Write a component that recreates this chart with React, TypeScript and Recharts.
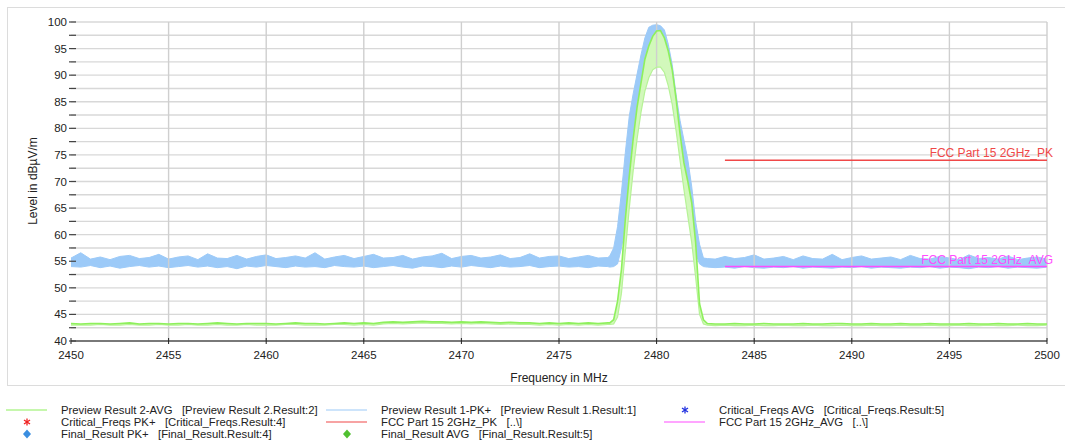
import React from "react"
import {
  ComposedChart,
  Area,
  Line,
  XAxis,
  YAxis,
  CartesianGrid,
  ReferenceLine,
  ReferenceDot,
} from "recharts"

// frequency grid (MHz): noise floor left, signal region, noise floor right
const leftFreqs = [
  2450, 2450.5, 2451, 2451.5, 2452, 2452.5, 2453, 2453.5, 2454, 2454.5,
  2455, 2455.5, 2456, 2456.5, 2457, 2457.5, 2458, 2458.5, 2459, 2459.5,
  2460, 2460.5, 2461, 2461.5, 2462, 2462.5, 2463, 2463.5, 2464, 2464.5,
  2465, 2465.5, 2466, 2466.5, 2467, 2467.5, 2468, 2468.5, 2469, 2469.5,
  2470, 2470.5, 2471, 2471.5, 2472, 2472.5, 2473, 2473.5, 2474, 2474.5,
  2475, 2475.5, 2476, 2476.5, 2477, 2477.5,
]
const peakFreqs = [
  2477.6, 2477.8, 2478, 2478.2, 2478.4, 2478.6, 2478.8, 2479, 2479.2, 2479.4,
  2479.6, 2479.8, 2480, 2480.2, 2480.4, 2480.6, 2480.8, 2481, 2481.2, 2481.4,
  2481.6, 2481.8, 2482, 2482.2, 2482.4, 2482.6,
]
const rightFreqs = [
  2483, 2483.5, 2484, 2484.5, 2485, 2485.5, 2486, 2486.5, 2487, 2487.5,
  2488, 2488.5, 2489, 2489.5, 2490, 2490.5, 2491, 2491.5, 2492, 2492.5,
  2493, 2493.5, 2494, 2494.5, 2495, 2495.5, 2496, 2496.5, 2497, 2497.5,
  2498, 2498.5, 2499, 2499.5, 2500,
]

// Preview Result 1-PK+ (upper / lower envelope of the sweeps), dBµV/m
const pkHiLeft = [
  55.6, 56.6, 55.4, 55.8, 55.3, 55.9, 56.1, 55.5, 55.7, 56.3,
  55.4, 55.8, 56.0, 55.3, 56.4, 55.6, 55.5, 56.1, 55.4, 55.9,
  56.2, 55.5, 55.7, 56.0, 55.6, 56.6, 55.4, 55.8, 56.1, 55.5,
  55.9, 56.3, 55.6, 55.7, 56.1, 55.4, 55.8, 56.0, 56.5, 55.5,
  55.9, 56.1, 55.6, 55.8, 56.2, 55.5, 55.7, 56.4, 55.6, 55.9,
  56.0, 55.5, 55.8, 56.1, 55.6, 55.7,
]
const pkLoLeft = [
  54.0, 53.9, 54.2, 53.8, 54.1, 53.7, 54.0, 54.2, 53.9, 54.1,
  53.8, 54.0, 54.2, 53.9, 54.1, 53.8, 54.0, 53.6, 54.1, 53.9,
  54.2, 54.0, 53.8, 54.1, 53.9, 54.0, 53.8, 54.2, 54.0, 53.9,
  54.1, 53.8, 54.0, 54.2, 53.9, 53.7, 54.1, 54.0, 53.8, 54.1,
  53.9, 54.2, 54.0, 53.8, 54.1, 53.9, 54.0, 54.2, 53.8, 54.0,
  54.1, 53.9, 54.0, 53.8, 54.1, 54.0,
]
const pkHiPeak = [
  56.0, 57.5, 61.5, 68.0, 75.5, 82.3, 86.5, 90.2, 93.8, 97.0,
  99.0, 99.4, 99.5, 99.3, 98.5, 95.8, 92.0, 86.3, 81.5, 77.8,
  74.1, 69.0, 62.5, 58.2, 55.6, 55.5,
]
const pkLoPeak = [
  53.9, 54.0, 54.5, 57.5, 61.5, 68.0, 75.0, 82.5, 87.0, 90.5,
  93.5, 96.5, 97.5, 97.0, 94.5, 90.0, 85.0, 80.0, 76.0, 71.0,
  65.0, 60.0, 56.5, 54.5, 54.0, 53.9,
]
const pkHiRight = [
  55.4, 55.9, 55.5, 55.7, 56.2, 55.4, 55.6, 55.9, 55.3, 56.0,
  55.5, 55.4, 56.3, 55.3, 55.7, 56.0, 55.4, 55.6, 55.8, 55.3,
  56.1, 55.5, 55.4, 55.9, 55.6, 55.3, 56.2, 55.5, 55.7, 55.4,
  56.0, 55.3, 55.6, 55.8, 55.4,
]
const pkLoRight = [
  53.8, 53.9, 53.7, 54.0, 53.8, 53.7, 53.9, 53.8, 54.0, 53.7,
  53.9, 53.8, 53.7, 53.9, 53.8, 54.0, 53.7, 53.9, 53.8, 53.7,
  53.9, 53.8, 54.0, 53.7, 53.9, 53.8, 53.6, 53.9, 53.8, 54.0,
  53.7, 53.9, 53.8, 53.7, 53.9,
]

// Preview Result 2-AVG
const avgHiLeft = [
  43.3, 43.2, 43.3, 43.3, 43.2, 43.3, 43.4, 43.2, 43.3, 43.3,
  43.2, 43.3, 43.3, 43.2, 43.3, 43.4, 43.3, 43.2, 43.3, 43.3,
  43.3, 43.2, 43.3, 43.4, 43.3, 43.3, 43.2, 43.3, 43.4, 43.3,
  43.4, 43.3, 43.5, 43.6, 43.5, 43.6, 43.7, 43.6, 43.6, 43.5,
  43.6, 43.5, 43.6, 43.5, 43.4, 43.5, 43.4, 43.4, 43.3, 43.4,
  43.3, 43.4, 43.3, 43.4, 43.3, 43.4,
]
const avgLoLeft = [
  43.0, 43.0, 43.0, 43.1, 43.0, 43.0, 43.1, 43.0, 43.0, 43.1,
  43.0, 43.0, 43.1, 43.0, 43.0, 43.1, 43.0, 43.0, 43.1, 43.0,
  43.0, 43.0, 43.1, 43.1, 43.0, 43.0, 43.0, 43.1, 43.1, 43.0,
  43.1, 43.0, 43.2, 43.3, 43.2, 43.3, 43.4, 43.3, 43.3, 43.2,
  43.3, 43.2, 43.3, 43.2, 43.1, 43.2, 43.1, 43.1, 43.0, 43.1,
  43.0, 43.1, 43.0, 43.1, 43.0, 43.1,
]
const avgHiPeak = [
  43.4, 44.0, 47.5, 53.5, 63.0, 71.0, 78.0, 84.0, 88.5, 93.0,
  95.5, 97.3, 98.3, 98.4, 97.0, 94.5, 91.0, 85.5, 79.0, 73.5,
  70.0, 66.0, 58.5, 47.0, 44.0, 43.3,
]
const avgLoPeak = [
  43.1, 43.2, 44.5, 49.0, 57.0, 65.0, 72.0, 78.0, 83.0, 87.0,
  89.5, 91.0, 91.5, 91.5, 90.5, 88.0, 84.5, 79.5, 74.0, 68.5,
  63.5, 58.5, 52.0, 45.0, 43.2, 43.0,
]
const avgHiRight = [
  43.2, 43.2, 43.3, 43.2, 43.2, 43.3, 43.2, 43.2, 43.2, 43.3,
  43.2, 43.2, 43.3, 43.3, 43.2, 43.2, 43.3, 43.2, 43.2, 43.3,
  43.2, 43.2, 43.3, 43.2, 43.2, 43.2, 43.3, 43.2, 43.2, 43.3,
  43.2, 43.2, 43.3, 43.2, 43.2,
]
const avgLoRight = [
  42.9, 43.0, 42.9, 42.9, 43.0, 42.9, 42.9, 43.0, 42.9, 42.9,
  43.0, 42.9, 42.9, 43.0, 42.9, 42.9, 43.0, 42.9, 42.9, 43.0,
  42.9, 42.9, 43.0, 42.9, 42.9, 43.0, 42.9, 42.9, 43.0, 42.9,
  42.9, 43.0, 42.9, 42.9, 43.0,
]

// FCC limit lines
const limitStart = 2483.5
const limitEnd = 2500
const limitPk = 74
const limitAvg = 54

const freqTicks = [2450, 2455, 2460, 2465, 2470, 2475, 2480, 2485, 2490, 2495, 2500]
const levelTicks = [
  40, 42.5, 45, 47.5, 50, 52.5, 55, 57.5, 60, 62.5, 65, 67.5, 70,
  72.5, 75, 77.5, 80, 82.5, 85, 87.5, 90, 92.5, 95, 97.5, 100,
]

const freqs = [...leftFreqs, ...peakFreqs, ...rightFreqs]
const pkHi = [...pkHiLeft, ...pkHiPeak, ...pkHiRight]
const pkLo = [...pkLoLeft, ...pkLoPeak, ...pkLoRight]
const avgHi = [...avgHiLeft, ...avgHiPeak, ...avgHiRight]
const avgLo = [...avgLoLeft, ...avgLoPeak, ...avgLoRight]

const rows = freqs.map((f, i) => ({
  f,
  pk: [pkLo[i], pkHi[i]],
  avg: [avgLo[i], avgHi[i]],
  avgHi: avgHi[i],
  avgLo: avgLo[i],
}))

const FONT = "'Liberation Sans', Arial, sans-serif"
const BLUE = "#9ccaf8"
const GREEN = "#8ef05c"
const RED = "#f04848"
const MAGENTA = "#ff4cff"

function FreqTick({ x, y, payload }: any) {
  return (
    <g>
      <line x1={x} x2={x} y1={y - 3} y2={y + 3} stroke="#222" />
      <text x={x} y={y + 18} textAnchor="middle" fontSize={11.5} fill="#222" fontFamily={FONT}>
        {payload.value}
      </text>
    </g>
  )
}

function LevelTick({ x, y, payload }: any) {
  const v = payload.value
  return (
    <g>
      <line x1={x - 2} x2={x + 5} y1={y} y2={y} stroke="#444" strokeWidth={1.2} />
      {v % 5 === 0 && (
        <text x={x - 4} y={y + 4} textAnchor="end" fontSize={11.5} fill="#222" fontFamily={FONT}>
          {v}
        </text>
      )}
    </g>
  )
}

function limitLabel(text: string, color: string) {
  return (props: any) => {
    const vb = props.viewBox || {}
    return (
      <text x={vb.x + 6} y={vb.y - 3} textAnchor="end" fontSize={12} fill={color} fontFamily={FONT}>
        {text}
      </text>
    )
  }
}

type Mark = "line" | "star" | "diamond"

function Marker({ kind, color }: { kind: Mark; color: string }) {
  return (
    <svg width={42} height={12} style={{ display: "block" }}>
      {kind === "line" && <line x1={0} x2={41} y1={6} y2={6} stroke={color} strokeWidth={1.2} />}
      {kind === "star" && (
        <g stroke={color} strokeWidth={1.3}>
          <line x1={21} x2={21} y1={2.5} y2={9.5} />
          <line x1={18} x2={24} y1={4} y2={8} />
          <line x1={18} x2={24} y1={8} y2={4} />
        </g>
      )}
      {kind === "diamond" && <path d="M21 1.5 L25 6 L21 10.5 L17 6 Z" fill={color} />}
    </svg>
  )
}

const legendItems: { col: number; row: number; kind: Mark; color: string; label: string }[] = [
  { col: 0, row: 0, kind: "line", color: GREEN, label: "Preview Result 2-AVG\u00a0\u00a0\u00a0[Preview Result 2.Result:2]" },
  { col: 1, row: 0, kind: "line", color: BLUE, label: "Preview Result 1-PK+\u00a0\u00a0\u00a0[Preview Result 1.Result:1]" },
  { col: 2, row: 0, kind: "star", color: "#2030e0", label: "Critical_Freqs AVG\u00a0\u00a0\u00a0[Critical_Freqs.Result:5]" },
  { col: 0, row: 1, kind: "star", color: "#f02020", label: "Critical_Freqs PK+\u00a0\u00a0\u00a0[Critical_Freqs.Result:4]" },
  { col: 1, row: 1, kind: "line", color: RED, label: "FCC Part 15 2GHz_PK\u00a0\u00a0\u00a0[..\\]" },
  { col: 2, row: 1, kind: "line", color: MAGENTA, label: "FCC Part 15 2GHz_AVG\u00a0\u00a0\u00a0[..\\]" },
  { col: 0, row: 2, kind: "diamond", color: "#3a8ee0", label: "Final_Result PK+\u00a0\u00a0\u00a0[Final_Result.Result:4]" },
  { col: 1, row: 2, kind: "diamond", color: "#50c030", label: "Final_Result AVG\u00a0\u00a0\u00a0[Final_Result.Result:5]" },
]
const legendColX = [6, 326, 664]
const legendRowY = [404, 416, 428]

export default function App() {
  return (
    <div style={{ position: "absolute", left: 0, top: 0, width: 1065, height: 448, background: "#fff", fontFamily: FONT, overflow: "hidden" }}>
      <div
        style={{
          position: "absolute",
          left: 7,
          top: 7,
          width: 1070,
          height: 377,
          border: "1px solid #dcdcdc",
        }}
      />
      <div style={{ position: "absolute", left: 0, top: 0 }}>
        <ComposedChart width={1065} height={390} data={rows} margin={{ top: 22, right: 18, left: 11, bottom: 19 }}>
          <CartesianGrid vertical={false} stroke="#d8d8d8" strokeWidth={1.4} />
          {freqTicks.slice(1).map((t) => (
            <ReferenceLine key={t} x={t} stroke="#cfcfcf" strokeWidth={1.4} />
          ))}
          <XAxis
            dataKey="f"
            type="number"
            domain={[2450, 2500]}
            ticks={freqTicks}
            interval={0}
            height={30}
            tickSize={0}
            tickMargin={0}
            tickLine={false}
            axisLine={{ stroke: "#111", strokeWidth: 1.2 }}
            tick={<FreqTick />}
          />
          <YAxis
            type="number"
            domain={[40, 100]}
            ticks={levelTicks}
            interval={0}
            width={60}
            tickSize={0}
            tickMargin={0}
            tickLine={false}
            axisLine={false}
            tick={<LevelTick />}
          />
          <Area
            type="linear"
            dataKey="pk"
            stroke={BLUE}
            strokeWidth={1}
            fill={BLUE}
            fillOpacity={1}
            dot={false}
            activeDot={false}
            isAnimationActive={false}
          />
          <Area
            type="linear"
            dataKey="avg"
            stroke="none"
            fill="#d2f8bb"
            fillOpacity={1}
            dot={false}
            activeDot={false}
            isAnimationActive={false}
          />
          <Line
            type="linear"
            dataKey="avgLo"
            stroke="#b6f396"
            strokeWidth={1.2}
            dot={false}
            activeDot={false}
            isAnimationActive={false}
          />
          <Line
            type="linear"
            dataKey="avgHi"
            stroke={GREEN}
            strokeWidth={1.6}
            dot={false}
            activeDot={false}
            isAnimationActive={false}
          />
          <ReferenceLine
            segment={[{ x: limitStart, y: limitAvg }, { x: limitEnd, y: limitAvg }]}
            stroke={MAGENTA}
            strokeWidth={1.4}
          />
          <ReferenceLine
            segment={[{ x: limitStart, y: limitPk }, { x: limitEnd, y: limitPk }]}
            stroke={RED}
            strokeWidth={1.4}
          />
          <ReferenceDot
            x={limitEnd}
            y={limitPk}
            r={0}
            fill="none"
            stroke="none"
            ifOverflow="visible"
            label={limitLabel("FCC Part 15 2GHz_PK", RED)}
          />
          <ReferenceDot
            x={limitEnd}
            y={limitAvg}
            r={0}
            fill="none"
            stroke="none"
            ifOverflow="visible"
            label={limitLabel("FCC Part 15 2GHz_AVG", MAGENTA)}
          />
        </ComposedChart>
      </div>
      <div
        style={{
          position: "absolute",
          left: 33,
          top: 181,
          transform: "translate(-50%, -50%) rotate(-90deg)",
          fontSize: 12,
          color: "#222",
          whiteSpace: "nowrap",
        }}
      >
        Level in dBµV/m
      </div>
      <div
        style={{
          position: "absolute",
          left: 559,
          top: 378,
          transform: "translate(-50%, -50%)",
          fontSize: 12,
          color: "#222",
          whiteSpace: "nowrap",
        }}
      >
        Frequency in MHz
      </div>
      {legendItems.map((it) => (
        <div
          key={it.label}
          style={{
            position: "absolute",
            left: legendColX[it.col],
            top: legendRowY[it.row],
            display: "flex",
            alignItems: "center",
            fontSize: 11.3,
            color: "#222",
            whiteSpace: "nowrap",
            lineHeight: "12px",
          }}
        >
          <Marker kind={it.kind} color={it.color} />
          <span style={{ marginLeft: 13 }}>{it.label}</span>
        </div>
      ))}
    </div>
  )
}
